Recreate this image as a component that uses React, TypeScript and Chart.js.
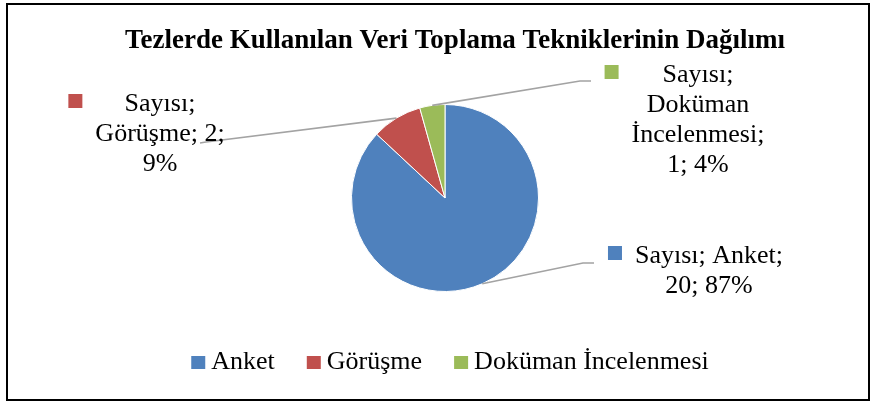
import React, { useEffect, useRef } from "react";
import { Chart, registerables } from "chart.js";

Chart.register(...registerables);

const chartTitle = "Tezlerde Kullanılan Veri Toplama Tekniklerinin Dağılımı";
const seriesName = "Sayısı";
const categories = ["Anket", "Görüşme", "Doküman İncelenmesi"];
const values = [20, 2, 1];
const colors = ["#4F81BD", "#C0504D", "#9BBB59"];

// Placement of each data label box (layout only, not data)
const labelLayout = [
  { anchor: [594, 263], elbow: [583, 263], centerX: 709, baseline: 263, wrap: 160 },
  { anchor: [200, 143], elbow: [206, 142], centerX: 160, baseline: 111, wrap: 140 },
  { anchor: [591, 81], elbow: [580, 81], centerX: 698, baseline: 82, wrap: 140 },
];

const FONT = '"Liberation Serif", "Times New Roman", serif';

function wrapWords(ctx: CanvasRenderingContext2D, text: string, maxW: number): string[] {
  const words = text.split(" ");
  const lines: string[] = [];
  let cur = "";
  for (const w of words) {
    const test = cur ? cur + " " + w : w;
    if (cur && ctx.measureText(test).width > maxW) {
      lines.push(cur);
      cur = w;
    } else {
      cur = test;
    }
  }
  if (cur) lines.push(cur);
  return lines;
}

const decorPlugin = {
  id: "decor",
  afterDraw(chart: any) {
    const ctx: CanvasRenderingContext2D = chart.ctx;
    ctx.save();
    // border
    ctx.strokeStyle = "#000";
    ctx.lineWidth = 2;
    ctx.strokeRect(7, 4, 862, 396);

    // title
    ctx.fillStyle = "#000";
    ctx.font = `bold 27px ${FONT}`;
    ctx.textAlign = "center";
    ctx.textBaseline = "alphabetic";
    ctx.fillText(chartTitle, 455, 48);

    // data labels with leader lines
    const meta = chart.getDatasetMeta(0);
    const total = values.reduce((a, b) => a + b, 0);
    ctx.font = `26px ${FONT}`;
    meta.data.forEach((arc: any, i: number) => {
      const p = arc.getProps(["x", "y", "startAngle", "endAngle", "outerRadius"], true);
      const mid = (p.startAngle + p.endAngle) / 2;
      const sx = p.x + Math.cos(mid) * p.outerRadius;
      const sy = p.y + Math.sin(mid) * p.outerRadius;
      const L = labelLayout[i];
      ctx.strokeStyle = "#A3A3A3";
      ctx.lineWidth = 1.6;
      ctx.beginPath();
      ctx.moveTo(sx, sy);
      ctx.lineTo(L.elbow[0], L.elbow[1]);
      ctx.lineTo(L.anchor[0], L.anchor[1]);
      ctx.stroke();

      const pct = Math.round((values[i] / total) * 100);
      const text = `${seriesName}; ${categories[i]}; ${values[i]}; ${pct}%`;
      const lines = wrapWords(ctx, text, L.wrap);
      const maxW = Math.max(...lines.map((l) => ctx.measureText(l).width));
      const left = L.centerX - maxW / 2;
      ctx.fillStyle = colors[i];
      ctx.fillRect(left - 27, L.baseline - 17, 14, 14);
      ctx.fillStyle = "#000";
      ctx.textAlign = "center";
      lines.forEach((ln, k) => {
        ctx.fillText(ln, L.centerX, L.baseline + k * 30);
      });
    });

    // legend
    ctx.font = `26px ${FONT}`;
    ctx.textAlign = "left";
    const box = 14;
    const gapText = 6;
    const gapItem = 32;
    const widths = categories.map((c) => box + gapText + ctx.measureText(c).width);
    const totalW = widths.reduce((a, b) => a + b, 0) + gapItem * (categories.length - 1);
    let x = 450 - totalW / 2;
    categories.forEach((c, i) => {
      ctx.fillStyle = colors[i];
      ctx.fillRect(x, 356, box, 13);
      ctx.fillStyle = "#000";
      ctx.fillText(c, x + box + gapText, 369);
      x += widths[i] + gapItem;
    });
    ctx.restore();
  },
};

export default function App() {
  const ref = useRef<HTMLCanvasElement | null>(null);
  useEffect(() => {
    if (!ref.current) return;
    const chart = new Chart(ref.current, {
      type: "pie",
      data: {
        labels: categories,
        datasets: [
          {
            label: seriesName,
            data: values,
            backgroundColor: colors,
            borderColor: "#ffffff",
            borderWidth: 1,
          },
        ],
      },
      options: {
        responsive: false,
        animation: false,
        layout: { padding: { left: 351, right: 335, top: 104, bottom: 109 } },
        plugins: {
          legend: { display: false },
          title: { display: false },
          tooltip: { enabled: false },
        },
      },
      plugins: [decorPlugin],
    });
    return () => chart.destroy();
  }, []);
  return (
    <div style={{ position: "absolute", left: 0, top: 0, width: 874, height: 401, background: "#fff" }}>
      <canvas ref={ref} width={874} height={401} style={{ width: 874, height: 401, display: "block" }} />
    </div>
  );
}
